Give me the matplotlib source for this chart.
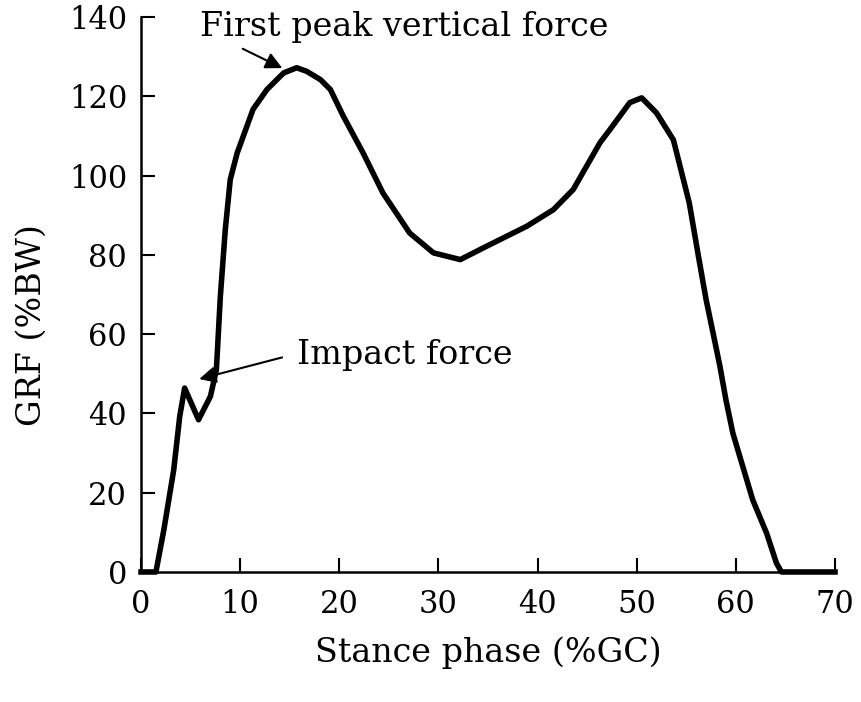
import matplotlib
matplotlib.use("Agg")
import matplotlib.pyplot as plt

# 读图得到的 GRF 曲线 (Stance phase %GC, GRF %BW)
stance = [0, 1.5, 2.3, 3.3, 3.9, 4.4, 5.8, 7.0, 7.6, 8.0, 8.5, 9.0, 9.7,
          11.3, 12.7, 13.7, 14.4, 15.7, 16.7, 18.1, 19.1, 20.4, 22.4, 24.4,
          27.1, 29.5, 32.2, 34.8, 38.9, 41.6, 43.6, 46.3, 47.3, 49.3, 50.5,
          52.0, 53.7, 55.3, 56.2, 57.0, 57.7, 58.4, 59.0, 59.7, 60.7, 61.7,
          63.1, 64.1, 64.6, 70]
grf = [0, 0, 10.6, 25.8, 39.2, 46.4, 38.4, 44.3, 51, 69.5, 86.4, 99, 105.7,
       116.7, 121.7, 124.2, 125.9, 127.2, 126.3, 124.2, 121.7, 115, 105.7, 95.6,
       85.5, 80.5, 78.8, 82.1, 87.2, 91.4, 96.5, 108.3, 111.6, 118.4, 119.6,
       115.8, 109, 93.1, 80, 68.7, 60.3, 51.8, 43.4, 35, 26.6, 18.2,
       9.8, 2.2, 0, 0]

x_ticks = [0, 10, 20, 30, 40, 50, 60, 70]
y_ticks = [0, 20, 40, 60, 80, 100, 120, 140]

plt.rcParams['font.family'] = ['DejaVu Serif', 'Liberation Serif']

fig = plt.figure(figsize=(8.61, 7.02), dpi=100)
ax = fig.add_axes([0.1638, 0.1852, 0.806, 0.7906])

ax.plot(stance, grf, color='black', lw=4, solid_joinstyle='round', clip_on=False, zorder=3)

ax.set_xlim(0, 70)
ax.set_ylim(0, 140)
ax.set_xticks(x_ticks)
ax.set_yticks(y_ticks)
ax.tick_params(direction='in', length=10, width=1.5, labelsize=22, pad=12)
ax.tick_params(axis='y', pad=10)
for s in ['top', 'right']:
    ax.spines[s].set_visible(False)
for s in ['left', 'bottom']:
    ax.spines[s].set_linewidth(1.8)

ax.set_xlabel('Stance phase (%GC)', fontsize=24, labelpad=12)
ax.set_ylabel('GRF (%BW)', fontsize=24)
ax.yaxis.set_label_coords(-0.135, 0.445)

# 标注
ax.annotate('', xy=(14.5, 126.8), xytext=(10.0, 132.3),
            arrowprops=dict(arrowstyle='-|>', color='black', lw=1.5, mutation_scale=25),
            annotation_clip=False)
ax.text(5.9, 137.4, 'First peak vertical force', fontsize=24, va='center', ha='left', clip_on=False)

ax.annotate('', xy=(5.6, 48.5), xytext=(14.5, 54.3),
            arrowprops=dict(arrowstyle='-|>', color='black', lw=1.5, mutation_scale=25),
            annotation_clip=False)
ax.text(15.7, 54.8, 'Impact force', fontsize=24, va='center', ha='left')

fig.savefig('out.png', dpi=100)
